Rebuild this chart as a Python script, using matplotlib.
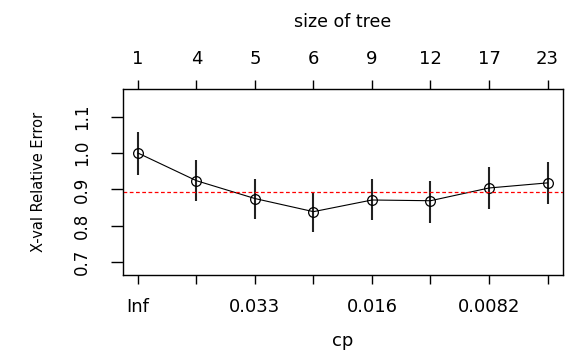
import matplotlib.pyplot as plt

# rpart plotcp-style chart
tree_size = [1, 4, 5, 6, 9, 12, 17, 23]
cp_labels = ['Inf', '', '0.033', '', '0.016', '', '0.0082', '']
xerror = [1.000, 0.924, 0.875, 0.839, 0.871, 0.869, 0.904, 0.918]
err_low = [0.940, 0.867, 0.820, 0.782, 0.815, 0.809, 0.847, 0.861]
err_high = [1.058, 0.982, 0.930, 0.894, 0.929, 0.923, 0.962, 0.976]
yticks = [0.7, 0.8, 0.9, 1.0, 1.1]
threshold = 0.893

plt.rcParams['font.family'] = 'DejaVu Sans'

fig = plt.figure(figsize=(5.65, 3.52), dpi=100)
ax = fig.add_axes([0.2172, 0.2187, 0.7798, 0.5276])

pos = list(range(1, len(tree_size) + 1))
ax.vlines(pos, err_low, err_high, color='#222222', lw=1.5)
ax.plot(pos, xerror, color='black', lw=0.8, marker='o', ms=7,
        mfc='none', mec='black', mew=0.9)
ax.axhline(threshold, color='red', lw=0.9, ls=(0, (3, 2)))

ax.set_xlim(0.74, 8.27)
ax.set_ylim(0.665, 1.175)
ax.set_xticks(pos)
ax.set_xticklabels(cp_labels)
ax.set_yticks(yticks)
ax.set_yticklabels(['%.1f' % v for v in yticks], rotation=90, va='center')
ax.tick_params(axis='x', length=6.5, width=1, pad=10, labelsize=13)
ax.tick_params(axis='y', length=9, width=1, pad=14, labelsize=12)
for s in ax.spines.values():
    s.set_linewidth(1)
    s.set_color('#333333')
ax.set_ylabel('X-val Relative Error', fontsize=10.5)
ax.yaxis.set_label_coords(-0.175, 0.5)

top = ax.twiny()
top.set_xlim(ax.get_xlim())
top.set_xticks(pos)
top.set_xticklabels([str(s) for s in tree_size])
top.tick_params(axis='x', length=6.5, width=1, pad=9, labelsize=13)

fig.text(0.607, 1 - 22 / 352, 'size of tree', ha='center', va='center', fontsize=12.5)
fig.text(0.607, 1 - 341 / 352, 'cp', ha='center', va='center', fontsize=13)

fig.savefig('out.png', dpi=100)
